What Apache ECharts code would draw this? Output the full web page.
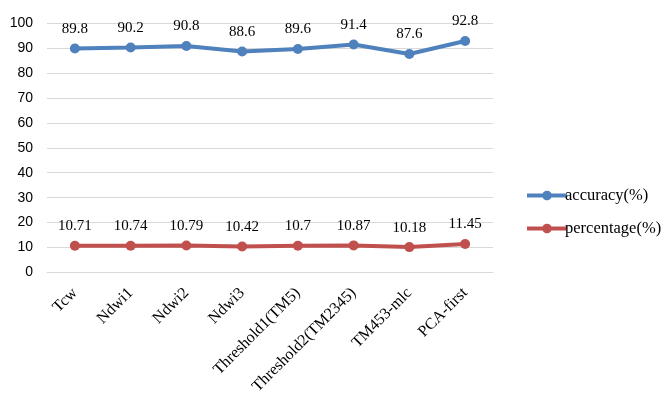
<!DOCTYPE html>
<html>
<head>
<meta charset="utf-8">
<script src="https://cdn.jsdelivr.net/npm/echarts@6/dist/echarts.min.js"></script>
<style>
  html, body { margin: 0; padding: 0; background: #fff; }
  #chart { width: 665px; height: 401px; }
</style>
</head>
<body>
<div id="chart"></div>
<script>
// Methods compared
const categories = ['Tcw', 'Ndwi1', 'Ndwi2', 'Ndwi3', 'Threshold1(TM5)', 'Threshold2(TM2345)', 'TM453-mlc', 'PCA-first'];
// Classification accuracy (%)
const accuracy = [89.8, 90.2, 90.8, 88.6, 89.6, 91.4, 87.6, 92.8];
// Water percentage (%)
const percentage = [10.71, 10.74, 10.79, 10.42, 10.7, 10.87, 10.18, 11.45];
// Value axis ticks
const yTicks = [0, 10, 20, 30, 40, 50, 60, 70, 80, 90, 100];

const serif = '"Liberation Serif", "Times New Roman", serif';
const sans = '"Liberation Sans", Arial, sans-serif';

const chart = echarts.init(document.getElementById('chart'), null, { renderer: 'canvas' });

function lineSeries(name, data, color) {
  return {
    name: name,
    type: 'line',
    data: data,
    symbol: 'circle',
    symbolSize: 10,
    lineStyle: { width: 4, color: color },
    itemStyle: { color: color },
    label: {
      show: true,
      position: 'top',
      distance: 7,
      fontFamily: serif,
      fontSize: 15,
      color: '#000',
      formatter: p => String(p.value)
    },
    animation: false
  };
}

chart.setOption({
  backgroundColor: '#fff',
  grid: { left: 47, right: 172, top: 23, bottom: 128.5, containLabel: false },
  legend: {
    orient: 'vertical',
    left: 522,
    top: 182,
    itemWidth: 40,
    itemHeight: 10,
    itemGap: 16,
    // thick line with a round marker in the middle
    icon: 'path://M0,3 L16.4,3 A5,5 0 0 1 25.6,3 L42,3 L42,7 L25.6,7 A5,5 0 0 1 16.4,7 L0,7 Z',
    textStyle: { fontFamily: serif, fontSize: 16.5, color: '#000', padding: [0, 0, 0, -7] },
    data: ['accuracy(%)', 'percentage(%)']
  },
  xAxis: {
    type: 'category',
    data: categories,
    boundaryGap: true,
    axisLine: { show: true, lineStyle: { color: '#d9d9d9', width: 1 } },
    axisTick: { show: false },
    axisLabel: {
      rotate: 45,
      margin: 18,
      interval: 0,
      fontFamily: serif,
      fontSize: 16,
      color: '#000'
    }
  },
  yAxis: {
    type: 'value',
    min: yTicks[0],
    max: yTicks[yTicks.length - 1],
    interval: yTicks[1] - yTicks[0],
    axisLine: { show: false },
    axisTick: { show: false },
    splitLine: { lineStyle: { color: '#d9d9d9', width: 1 } },
    axisLabel: {
      margin: 14,
      fontFamily: sans,
      fontSize: 14,
      color: '#000'
    }
  },
  series: [
    lineSeries('accuracy(%)', accuracy, '#4f81bd'),
    lineSeries('percentage(%)', percentage, '#c0504d')
  ]
});
</script>
</body>
</html>
